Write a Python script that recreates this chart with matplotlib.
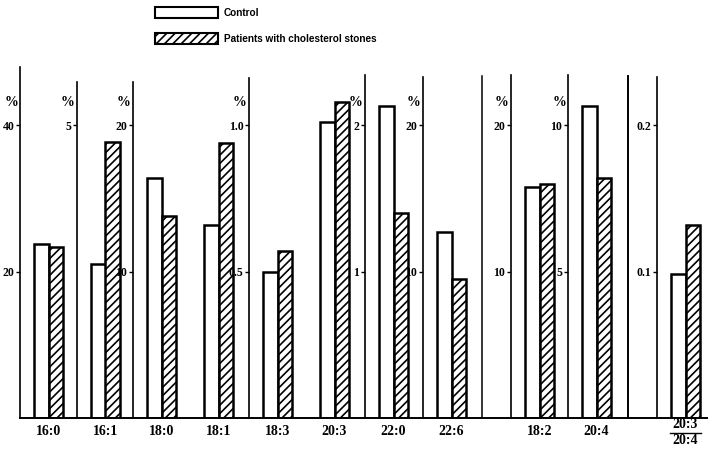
import matplotlib.pyplot as plt
from matplotlib.lines import Line2D
from matplotlib.patches import Patch

# fatty acid composition, % of total (control vs. cholesterol stone patients)
control = {"16:0": 23.7, "16:1": 2.62, "18:0": 16.4, "18:1": 13.2, "18:3": 0.50,
           "20:3": 1.01, "22:0": 2.13, "22:6": 12.7, "18:2": 15.8, "20:4": 10.65,
           "ratio": 0.0986}
patients = {"16:0": 23.4, "16:1": 4.71, "18:0": 13.8, "18:1": 18.8, "18:3": 0.57,
            "20:3": 1.08, "22:0": 1.40, "22:6": 9.5, "18:2": 16.0, "20:4": 8.18,
            "ratio": 0.132}

# one y axis per panel
panel_acids = [["16:0"], ["16:1"], ["18:0", "18:1"], ["18:3", "20:3"], ["22:0"],
               ["22:6"], ["18:2"], ["20:4"], ["ratio"]]
panel_ticks = [[20, 40], [5], [10, 20], [0.5, 1.0], [1, 2], [10, 20], [10, 20],
               [5, 10], [0.1, 0.2]]
panel_ticklabels = [["20", "40"], ["5"], ["10", "20"], ["0.5", "1.0"], ["1", "2"],
                    ["10", "20"], ["10", "20"], ["5", "10"], ["0.1", "0.2"]]

# layout in pixels
W, H = 708, 449
base_px = 418          # baseline
tick_px = 125          # upper tick position
slot = 57              # px per bar group
axis_px = [20, 77, 133, 249, 365, 423, 511, 568, 657]
top_px = [67, 82, 82, 78, 75, 77, 75, 75, 77]
pct = [True, True, True, True, True, True, True, True, False]
separators = [482, 628]
bw = 14.5 / slot
hatch = "////"

serif = "Liberation Serif"
plt.rcParams["hatch.linewidth"] = 1.2

fig = plt.figure(figsize=(W / 100, H / 100), dpi=100)


def fx(px):
    return px / W


def fy(py):
    return 1 - py / H


for i, acids in enumerate(panel_acids):
    n = len(acids)
    width_px = min(n * slot, W - axis_px[i])
    ax = fig.add_axes([fx(axis_px[i]), fy(base_px), width_px / W,
                       (base_px - top_px[i]) / H])
    ax.patch.set_visible(False)
    x = list(range(n))
    ax.bar([v - bw / 2 for v in x], [control[a] for a in acids], bw,
           facecolor="white", edgecolor="black", linewidth=1.8)
    ax.bar([v + bw / 2 for v in x], [patients[a] for a in acids], bw,
           facecolor="white", edgecolor="black", linewidth=1.8, hatch=hatch)
    upper = panel_ticks[i][-1]
    ax.set_ylim(0, upper * (base_px - top_px[i]) / (base_px - tick_px))
    ax.set_xlim(-0.5, -0.5 + width_px / slot)
    for s in ["top", "right", "bottom"]:
        ax.spines[s].set_visible(False)
    ax.spines["left"].set_linewidth(1.2)
    ax.set_yticks(panel_ticks[i])
    ax.set_yticklabels(panel_ticklabels[i], fontfamily=serif, fontweight="bold",
                       fontsize=8.5)
    ax.tick_params(axis="y", length=3, width=1, pad=1)
    ax.set_xticks(x)
    ax.tick_params(axis="x", length=0, pad=5)
    if "ratio" in acids:
        # fraction label 20:3 / 20:4
        ax.set_xticklabels([""])
        tr = ax.get_xaxis_transform()
        for txt, dy in [("20:3", -7), ("20:4", -22)]:
            ax.annotate(txt, (0, 0), xycoords=tr, xytext=(0, dy),
                        textcoords="offset pixels", ha="center", va="center",
                        fontfamily=serif, fontweight="bold", fontsize=10)
        yline = -15 / (base_px - top_px[i])
        ax.add_line(Line2D([-0.27, 0.27], [yline, yline], color="black", lw=1,
                           clip_on=False, transform=tr))
    else:
        ax.set_xticklabels(acids, fontfamily=serif, fontweight="bold",
                           fontsize=10)
    if pct[i]:
        fig.text(fx(axis_px[i] - 9), fy(103), "%", fontfamily=serif,
                 fontweight="bold", fontsize=10, ha="center", va="center")

for sx in separators:
    fig.add_artist(Line2D([fx(sx), fx(sx)], [fy(base_px), fy(76)],
                          color="black", lw=1.4 if sx == 628 else 1.1))
fig.add_artist(Line2D([fx(20), fx(708)], [fy(base_px), fy(base_px)],
                      color="black", lw=1.4))

handles = [Patch(facecolor="white", edgecolor="black", linewidth=1.5),
           Patch(facecolor="white", edgecolor="black", linewidth=1.5,
                 hatch=hatch)]
fig.legend(handles, ["Control", "Patients with cholesterol stones"],
           loc="upper left", bbox_to_anchor=(fx(155), fy(7)), frameon=False,
           handlelength=6.3, handleheight=1.3, labelspacing=1.55,
           handletextpad=0.6, borderpad=0, borderaxespad=0,
           prop={"family": "Liberation Sans", "weight": "bold", "size": 7.2})

fig.savefig("out.png", dpi=100)
